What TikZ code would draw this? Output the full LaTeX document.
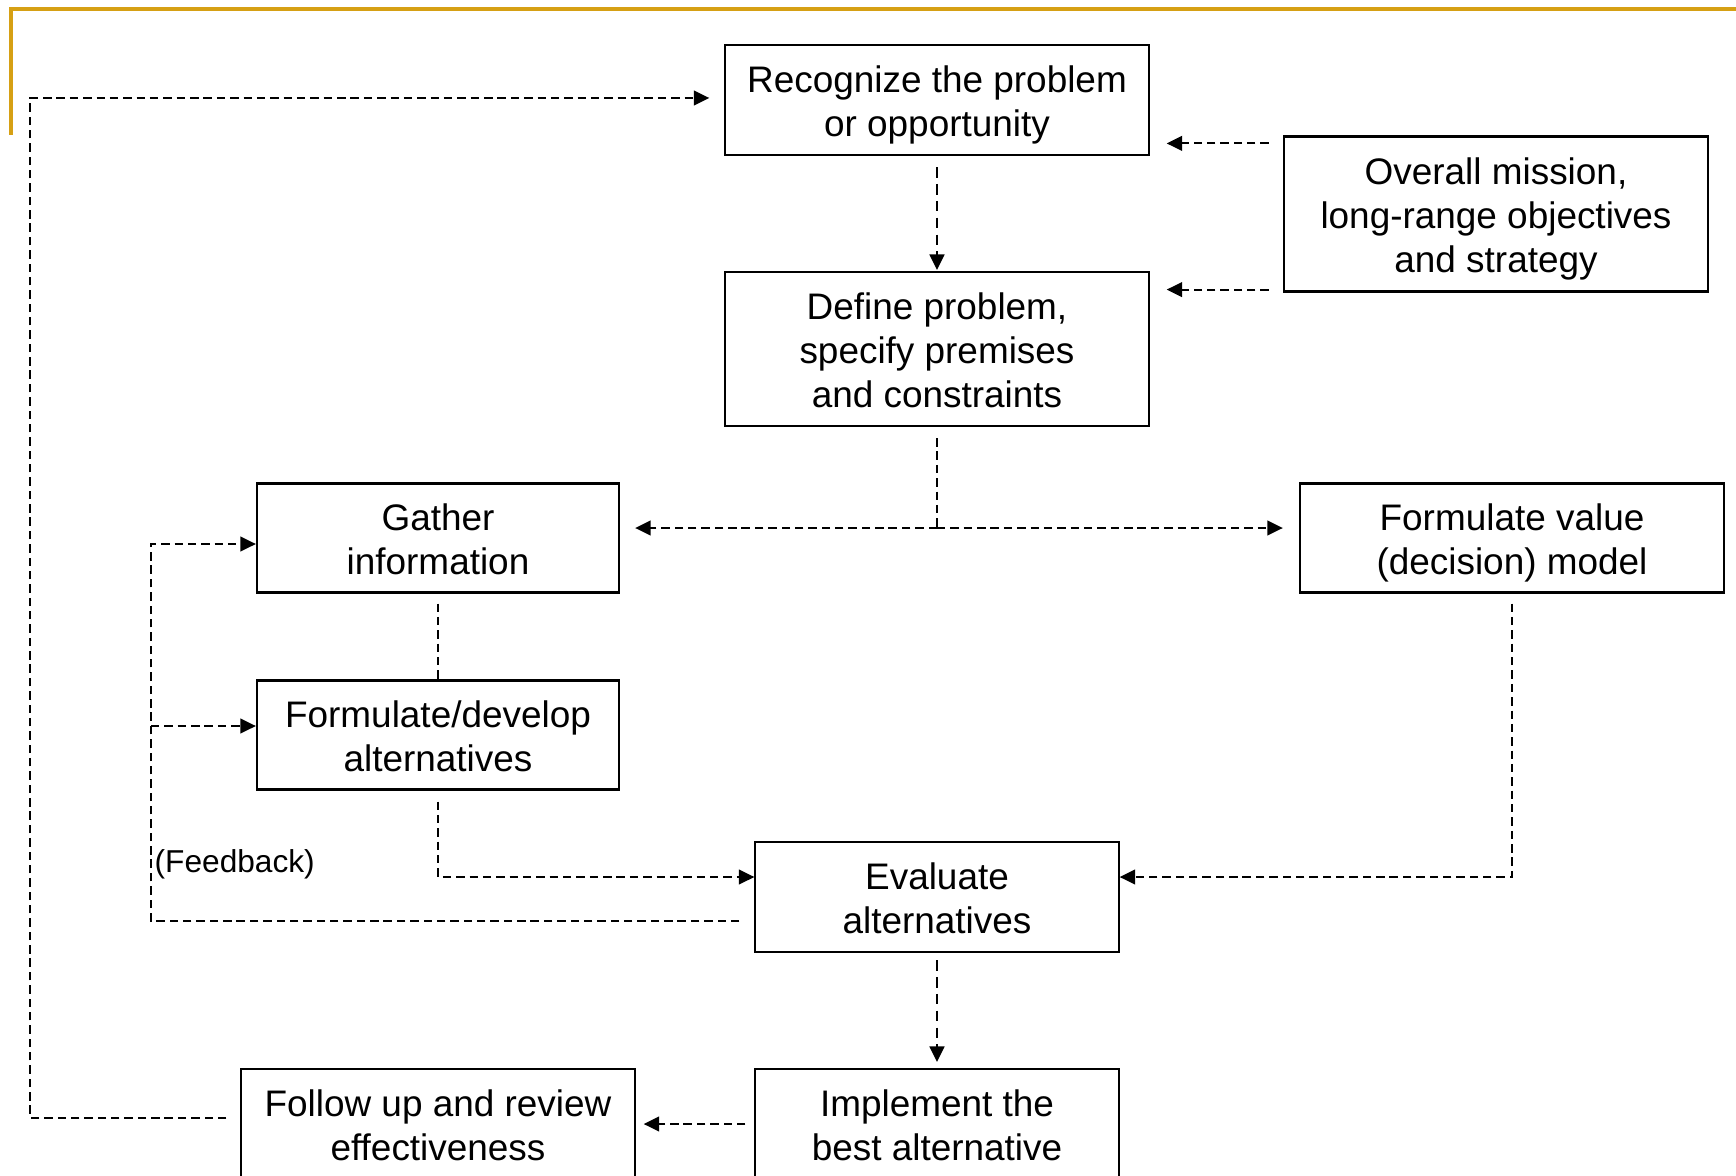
\documentclass[tikz,border=0pt]{standalone}
\usepackage{fontspec}
\setmainfont{Liberation Sans}
\usetikzlibrary{arrows.meta, calc}
\definecolor{framegold}{RGB}{214,160,20}
\newcommand{\tstrut}{\rule{0pt}{10.6pt}}

\begin{document}
\begin{tikzpicture}[
    x=0.01cm, y=-0.01cm,
    >={Triangle[length=4.4pt, width=4.2pt]},
    box/.style={draw, line width=0.6pt, align=center, inner sep=0pt,
                font=\fontsize{10.5}{12.5}\selectfont,
                execute at end node={\rule[-2.2pt]{0pt}{0pt}}},
    dline/.style={dash pattern=on 2.4pt off 1.4pt, line width=0.55pt},
    ldline/.style={dash pattern=on 3pt off 1.8pt, line width=0.6pt},
    arr/.style={dline, ->},
    larr/.style={ldline, ->},
    lbl/.style={font=\fontsize{9}{11}\selectfont, inner sep=0pt},
]
\useasboundingbox (0,0) rectangle (1736,1176);
% === Slide frame ===
\draw[framegold, line width=0.045cm] (11,135) |- (1736,9);
% === Process boxes ===
\node[box, minimum width=4.23cm, minimum height=1.10cm] (recog) at (937,100) {\tstrut Recognize the problem\\or opportunity};
\node[box, minimum width=4.24cm, minimum height=1.55cm] (mission) at (1496,214) {\tstrut Overall mission,\\long-range objectives\\and strategy};
\node[box, minimum width=4.23cm, minimum height=1.54cm] (define) at (937,349) {\tstrut Define problem,\\specify premises\\and constraints};
\node[box, minimum width=3.62cm, minimum height=1.09cm] (gather) at (438,538) {\tstrut Gather\\information};
\node[box, minimum width=4.24cm, minimum height=1.09cm] (valmodel) at (1512,538) {\tstrut Formulate value\\(decision) model};
\node[box, minimum width=3.62cm, minimum height=1.09cm] (develop) at (438,735) {\tstrut Formulate/develop\\alternatives};
\node[box, minimum width=3.63cm, minimum height=1.10cm] (evaluate) at (937,897) {\tstrut Evaluate\\alternatives};
\node[box, minimum width=3.63cm, minimum height=1.10cm] (implement) at (937,1124) {\tstrut Implement the\\best alternative};
\node[box, minimum width=3.93cm, minimum height=1.10cm] (follow) at (438,1124) {\tstrut Follow up and review\\effectiveness};
\node[lbl, anchor=west] (fbtext) at (154,864) {(Feedback)};
% === Helper points ===
\coordinate (loopL) at (30,0);
\coordinate (fbk) at (151,0);
\coordinate (split) at (937,528);
\coordinate (m1) at ($(mission.north west)+(0,8)$);
\coordinate (m2) at ($(mission.south west)+(0,-3)$);
\coordinate (evalL) at ($(evaluate.west)+(0,-20)$);
\coordinate (evalR) at ($(evaluate.east)+(0,-20)$);
\coordinate (fbOut) at ($(evaluate.west)+(0,24)$);
\coordinate (gatherIn) at ($(gather.west)+(0,6)$);
\coordinate (devIn) at ($(develop.west)+(0,-9)$);
\coordinate (followOut) at ($(follow.west)+(0,-6)$);
\coordinate (recogIn) at ($(recog.west)+(0,-2)$);
% === Main flow ===
\draw[larr, shorten <=0.11cm, shorten >=0.01cm] (recog) -- (define);
\draw[arr, shorten <=0.14cm, shorten >=0.17cm] (m1) -- (m1 -| recog.east);
\draw[arr, shorten <=0.14cm, shorten >=0.17cm] (m2) -- (m2 -| define.east);
\draw[dline, shorten <=0.11cm] (define.south) -- (split);
\draw[arr, shorten >=0.15cm] (split) -- (split -| gather.east);
\draw[arr, shorten >=0.16cm] (split) -- (split -| valmodel.west);
\draw[dline, shorten <=0.10cm] (gather) -- (develop);
\draw[arr, shorten <=0.11cm] (develop.south) |- (evalL);
\draw[arr, shorten <=0.10cm] (valmodel.south) |- (evalR);
\draw[larr, shorten <=0.07cm, shorten >=0.06cm] (evaluate) -- (implement);
\draw[arr, shorten <=0.09cm, shorten >=0.08cm] (implement) -- (follow);
% === Feedback loops ===
\draw[arr, shorten <=0.15cm] (fbOut) -- (fbOut -| fbk) |- (gatherIn);
\draw[arr] (devIn -| fbk) -- (devIn);
\draw[arr, shorten <=0.14cm, shorten >=0.15cm] (followOut) -- (followOut -| loopL) |- (recogIn);
\end{tikzpicture}
\end{document}
